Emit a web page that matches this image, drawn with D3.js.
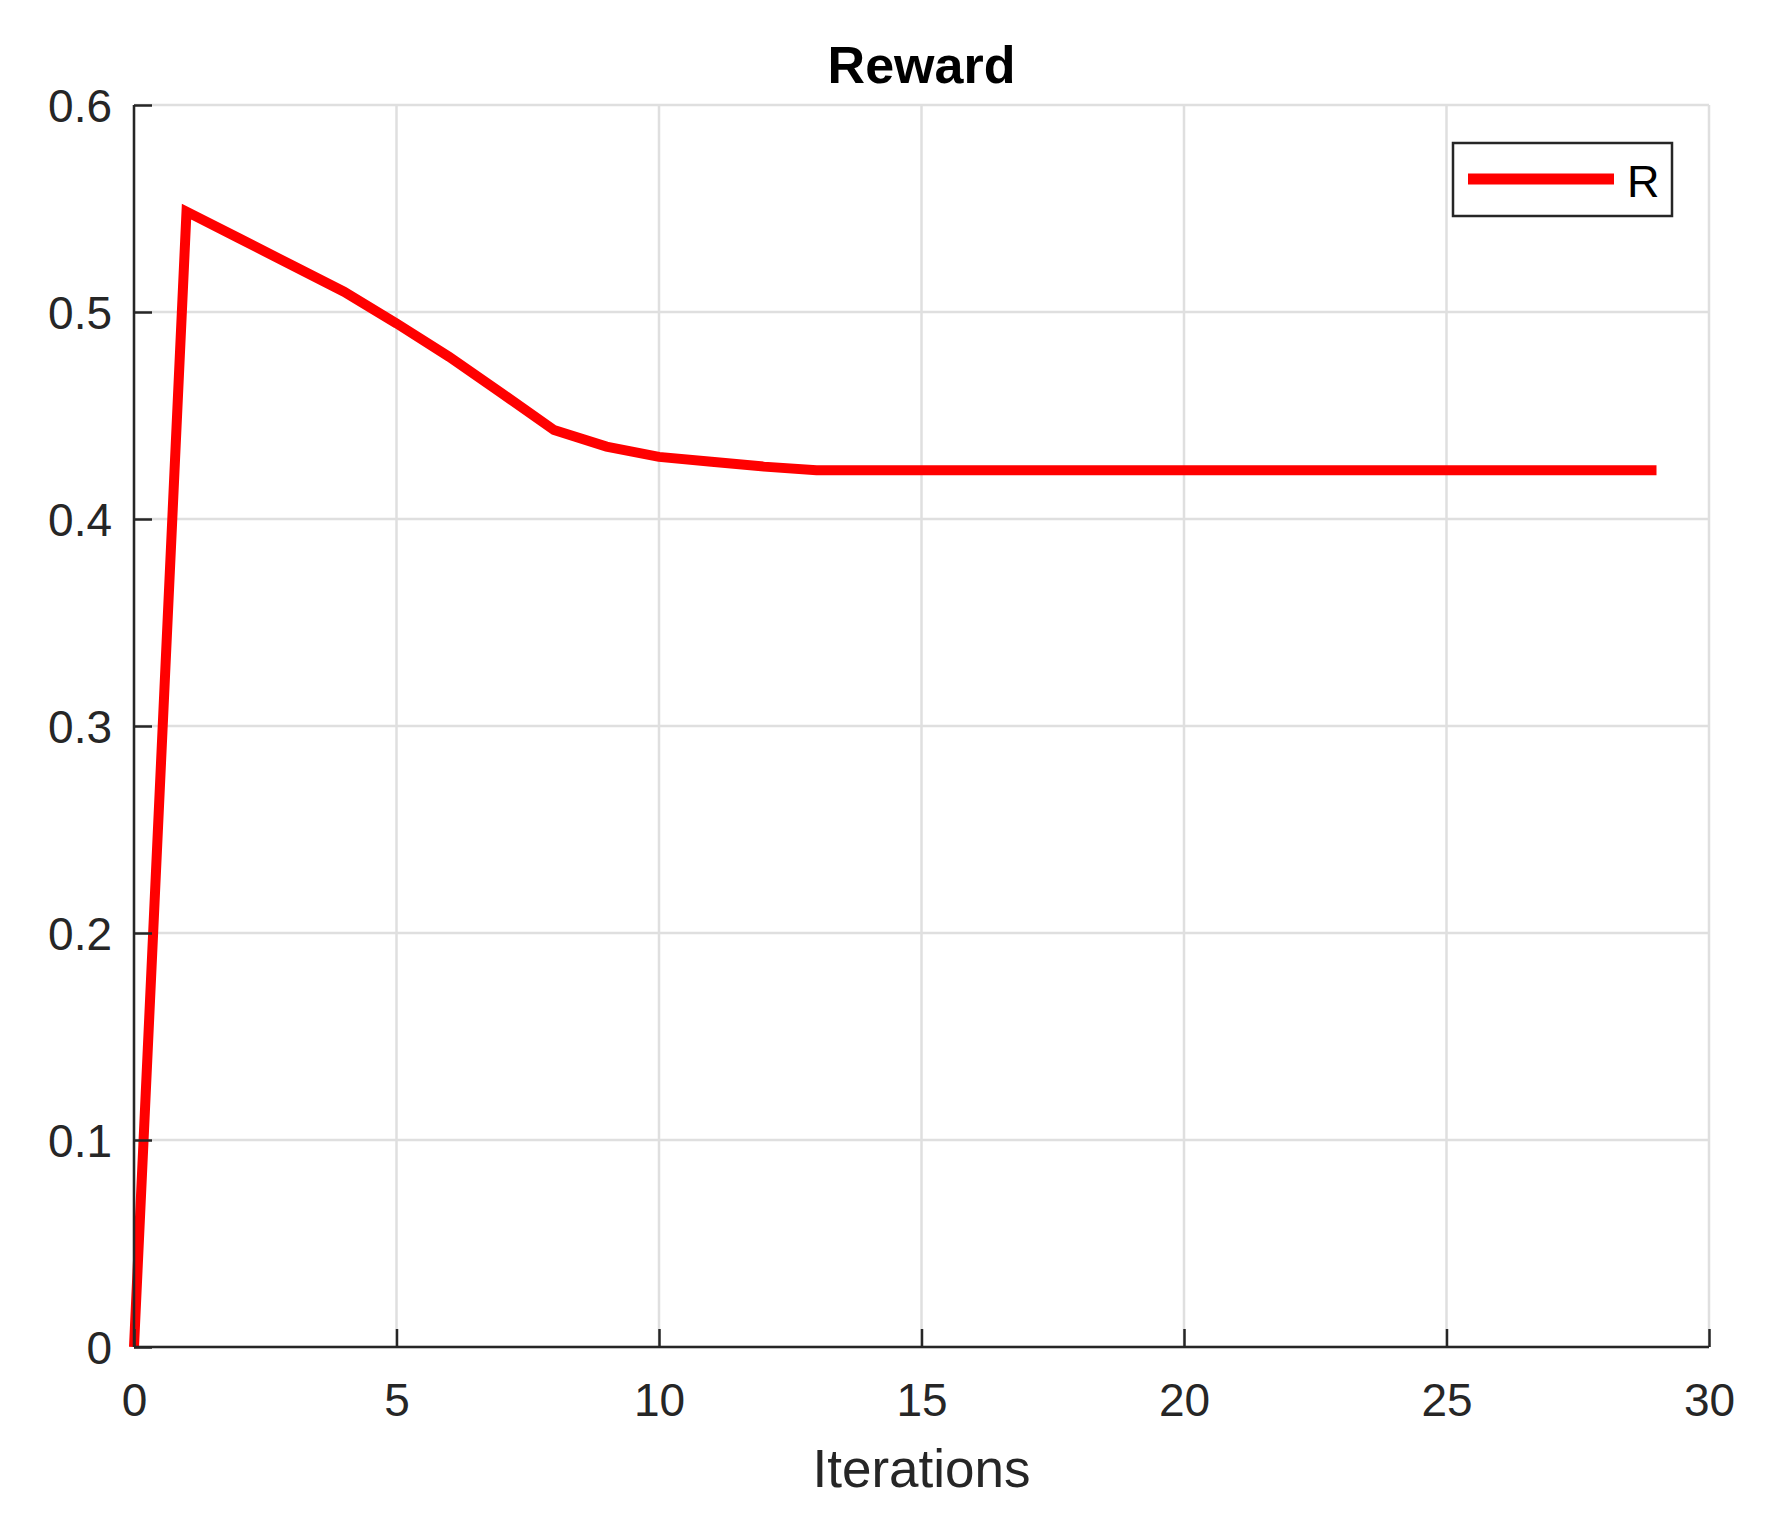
<!DOCTYPE html>
<html>
<head>
<meta charset="utf-8">
<script src="https://cdn.jsdelivr.net/npm/d3@7"></script>
<style>
  html, body { margin: 0; padding: 0; background: #fff; }
  svg { display: block; }
  text { font-family: "Liberation Sans", Arial, Helvetica, sans-serif; }
</style>
</head>
<body>
<svg id="chart" width="1785" height="1515"></svg>
<script>
// ---- data ----
const iterations = [0,1,2,3,4,5,6,7,8,9,10,11,12,13,14,15,16,17,18,19,20,21,22,23,24,25,26,27,28,29];
const rewardR = [0, 0.5485, 0.5356, 0.5227, 0.5098, 0.4945, 0.4784, 0.4608, 0.4430, 0.4350, 0.4300, 0.4277, 0.4253, 0.4235,
  0.4235, 0.4235, 0.4235, 0.4235, 0.4235, 0.4235, 0.4235, 0.4235, 0.4235, 0.4235, 0.4235, 0.4235, 0.4235, 0.4235, 0.4235, 0.4235];
const xTicks = [0, 5, 10, 15, 20, 25, 30];
const yTicks = [0, 0.1, 0.2, 0.3, 0.4, 0.5, 0.6];
const seriesName = "R";
const titleText = "Reward";
const xLabelText = "Iterations";

// ---- layout ----
const svg = d3.select("#chart");
const L = 134, R = 1709, T = 105, B = 1347;
const axisColor = "#262626";
const gridColor = "#dfdfdf";

const x = d3.scaleLinear().domain([0, 30]).range([L, R]);
const y = d3.scaleLinear().domain([0, 0.6]).range([B, T]);

// grid
const grid = svg.append("g");
grid.selectAll("line.gx").data(xTicks).join("line")
  .attr("x1", d => x(d)).attr("x2", d => x(d))
  .attr("y1", T).attr("y2", B)
  .attr("stroke", gridColor).attr("stroke-width", 2.5);
grid.selectAll("line.gy").data(yTicks).join("line")
  .attr("x1", L).attr("x2", R)
  .attr("y1", d => y(d)).attr("y2", d => y(d))
  .attr("stroke", gridColor).attr("stroke-width", 2.5);

// data line
const line = d3.line().x((d, i) => x(iterations[i])).y(d => y(d));
svg.append("path")
  .datum(rewardR)
  .attr("d", line)
  .attr("fill", "none")
  .attr("stroke", "#ff0000")
  .attr("stroke-width", 10)
  .attr("stroke-linejoin", "miter");

// axes (ticks inward)
const xAxis = d3.axisBottom(x).tickValues(xTicks).tickSize(-18).tickPadding(0).tickFormat(d3.format("d"));
const gx = svg.append("g").attr("transform", `translate(0,${B})`).call(xAxis);
gx.select(".domain").attr("stroke", axisColor).attr("stroke-width", 2.5).attr("d", `M${L},0H${R}`);
gx.selectAll(".tick line").attr("stroke", axisColor).attr("stroke-width", 2.5);
gx.selectAll(".tick text")
  .attr("y", 69).attr("dy", null)
  .attr("fill", axisColor)
  .style("font-size", "46px")
  .style("font-family", "'Liberation Sans', Arial, sans-serif");

const yAxis = d3.axisLeft(y).tickValues(yTicks).tickSize(-18).tickPadding(0)
  .tickFormat(d => d === 0 ? "0" : d3.format(".1f")(d));
const gy = svg.append("g").attr("transform", `translate(${L},0)`).call(yAxis);
gy.select(".domain").attr("stroke", axisColor).attr("stroke-width", 2.5).attr("d", `M0,${T}V${B}`);
gy.selectAll(".tick line").attr("stroke", axisColor).attr("stroke-width", 2.5);
gy.selectAll(".tick text")
  .attr("x", -22).attr("dy", "0.36em")
  .attr("fill", axisColor)
  .style("font-size", "46px")
  .style("font-family", "'Liberation Sans', Arial, sans-serif");

// top and right spines not drawn (box off) — only left and bottom axes visible in reference

// title
svg.append("text")
  .attr("x", (L + R) / 2).attr("y", 83)
  .attr("text-anchor", "middle")
  .attr("fill", "#000")
  .style("font-size", "52px").style("font-weight", "bold")
  .text(titleText);

// x label
svg.append("text")
  .attr("x", (L + R) / 2).attr("y", 1487)
  .attr("text-anchor", "middle")
  .attr("fill", axisColor)
  .style("font-size", "53px")
  .text(xLabelText);

// legend
const lg = svg.append("g");
lg.append("rect")
  .attr("x", 1453).attr("y", 143).attr("width", 219).attr("height", 73)
  .attr("fill", "#fff").attr("stroke", axisColor).attr("stroke-width", 2.5);
lg.append("line")
  .attr("x1", 1468).attr("x2", 1614).attr("y1", 179).attr("y2", 179)
  .attr("stroke", "#ff0000").attr("stroke-width", 11);
lg.append("text")
  .attr("x", 1627).attr("y", 197)
  .attr("fill", "#000")
  .style("font-size", "45px")
  .text(seriesName);
</script>
</body>
</html>
